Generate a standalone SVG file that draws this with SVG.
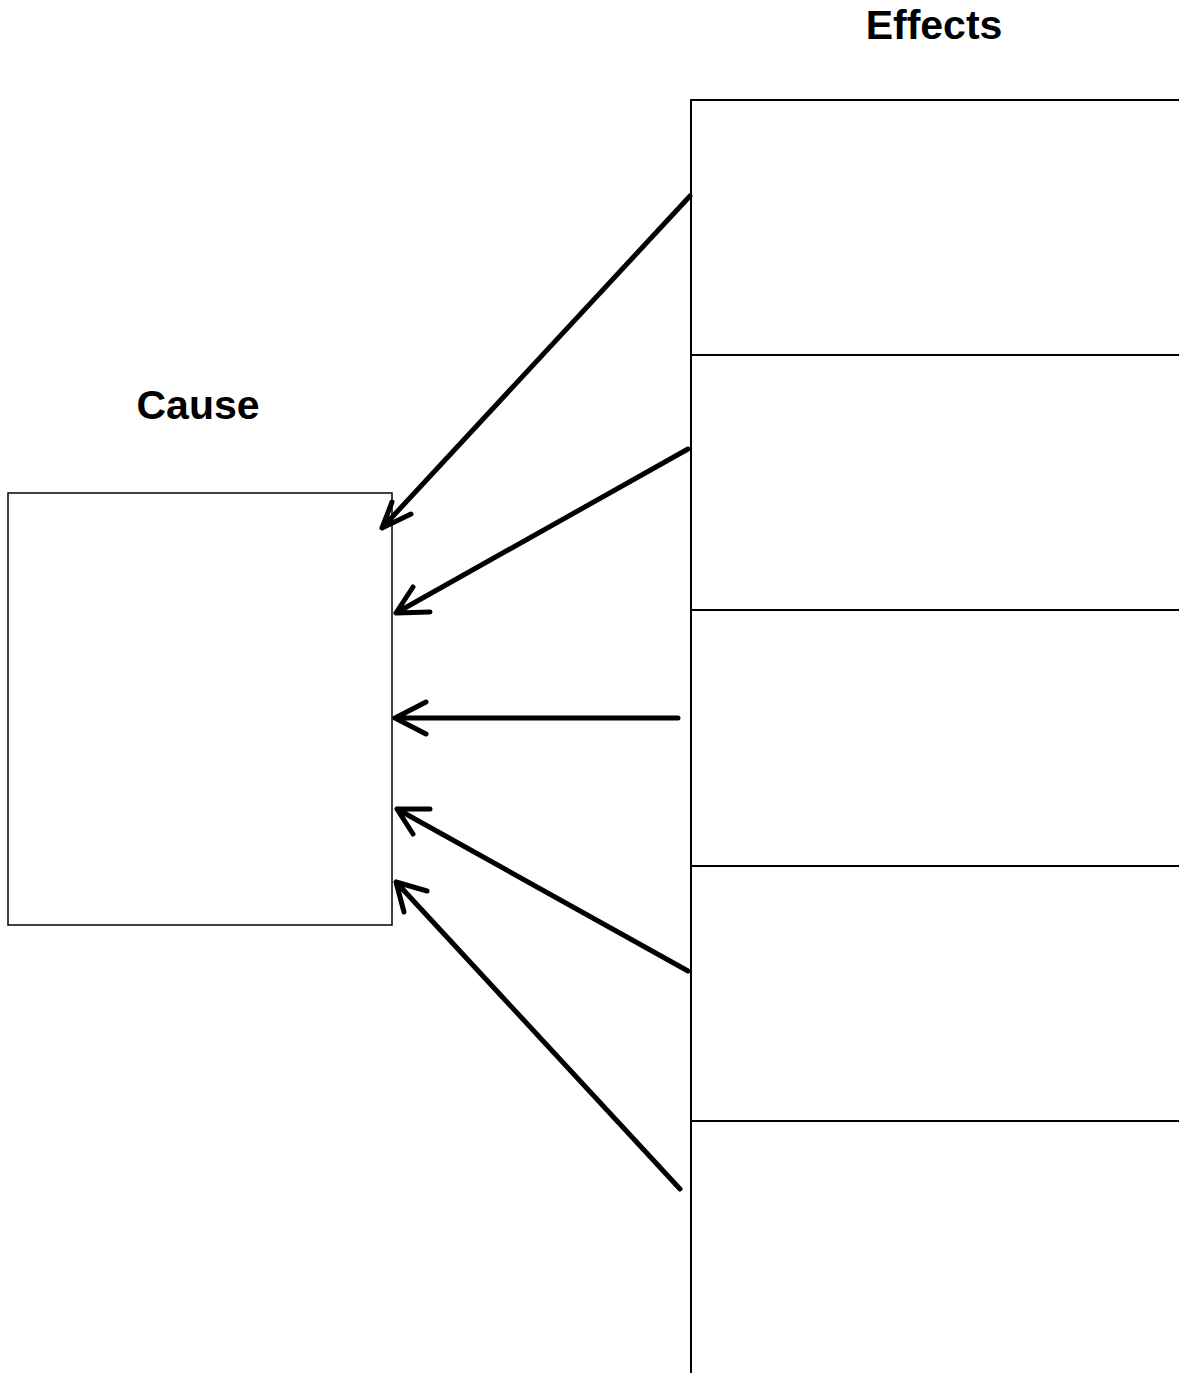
<svg xmlns="http://www.w3.org/2000/svg" width="1179" height="1373" viewBox="0 0 1179 1373">
<style>
.lbl{font-family:"Liberation Sans",Arial,sans-serif;font-weight:bold;font-size:41px;fill:#000;text-anchor:middle}
.box{fill:#fff;stroke:#000;stroke-width:1.5}
.eff{fill:none;stroke:#000;stroke-width:2}
.arr{fill:none;stroke:#000;stroke-width:5;stroke-linecap:round;stroke-linejoin:round}
</style>
<rect width="1179" height="1373" fill="#fff"/>
<g id="cause">
<text class="lbl" x="198" y="419">Cause</text>
<rect class="box" x="8" y="493" width="384" height="432"/>
</g>
<g id="effects">
<text class="lbl" x="934" y="39">Effects</text>
<path class="eff" d="M691,1373 V100 H1180"/>
</g>
<g id="effect1"><path class="eff" d="M691,355 H1180"/></g>
<g id="effect2"><path class="eff" d="M691,610 H1180"/></g>
<g id="effect3"><path class="eff" d="M691,866 H1180"/></g>
<g id="effect4"><path class="eff" d="M691,1121 H1180"/></g>
<g id="connectors">
<path class="arr" d="M690,196 L382,528 M392,502 L382,528 L411,514"/>
<path class="arr" d="M688,449 L396,613 M413,587 L396,613 L430,612"/>
<path class="arr" d="M678,718 L395,718 M426,702 L395,718 L426,734"/>
<path class="arr" d="M688,971 L397,809 M430,809 L397,809 L413,834"/>
<path class="arr" d="M680,1189 L396,882 M427,891 L396,882 L404,912"/>
</g>
</svg>
